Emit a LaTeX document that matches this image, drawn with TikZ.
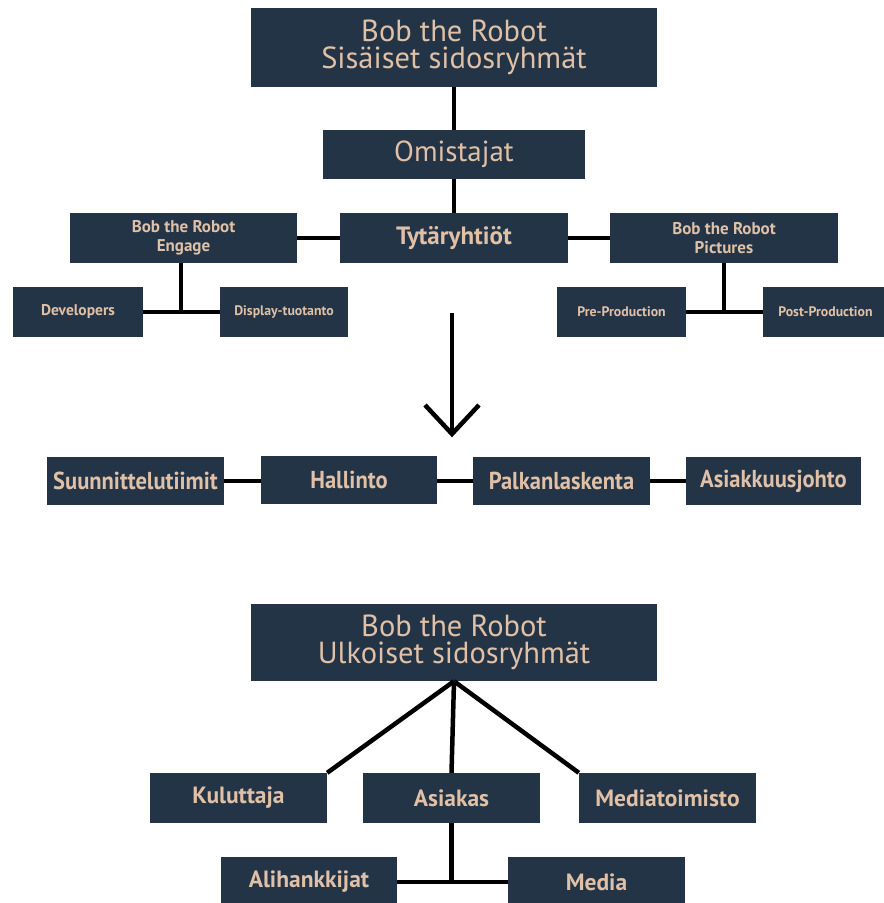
\documentclass[tikz,border=0pt]{standalone}
\usepackage{fontspec}
\setmainfont{PT Sans}
\usepackage{graphicx}
\definecolor{navy}{RGB}{34,52,70}
\definecolor{tan}{RGB}{224,192,166}
\begin{document}
\begin{tikzpicture}[x=1pt,y=-1pt,
  box/.style={fill=navy, text=tan, inner sep=0pt, align=center, anchor=center},
  conn/.style={line width=4.5pt, black},
  fA/.style={font=\fontsize{30.5}{27.5}\selectfont},
  fB/.style={font=\fontsize{29}{30}\selectfont},
  fC/.style={font=\fontsize{25}{28}\selectfont\bfseries},
  fD/.style={font=\fontsize{17}{19.5}\selectfont\bfseries},
  fE/.style={font=\fontsize{15.5}{17}\selectfont\bfseries},
  fF/.style={font=\fontsize{13.8}{16}\selectfont\bfseries},
  fR/.style={font=\fontsize{24.5}{26}\selectfont\bfseries},
  fK/.style={font=\fontsize{23.5}{26}\selectfont\bfseries}]
\useasboundingbox (0,0) rectangle (884,903);
% internal
\node[box,fA,minimum width=406pt,minimum height=79pt] (top) at (454,47.5) {Bob the Robot\\Sisäiset sidosryhmät};
\node[box,fB,minimum width=262pt,minimum height=49pt] (omi) at (454,154.5) {Omistajat};
\node[box,fC,minimum width=228pt,minimum height=50pt] (tyt) at (454,238) {Tytäryhtiöt};
\node[box,fD,minimum width=227pt,minimum height=50pt] (eng) at (183.5,238) {Bob the Robot\\Engage};
\node[box,fD,minimum width=228pt,minimum height=50pt] (pic) at (724,238) {Bob the Robot\\Pictures};
\node[box,fE,minimum width=130pt,minimum height=50pt] (dev) at (78,312) {Developers};
\node[box,fF,minimum width=128pt,minimum height=50pt] (disp) at (284,312) {Display-tuotanto};
\node[box,fF,minimum width=129pt,minimum height=50pt] (pre) at (621.5,312) {Pre-Production};
\node[box,fF,minimum width=125pt,minimum height=50pt] (post) at (825.5,312) {Post-Production};
\draw[conn] (top.south) -- (omi.north);
\draw[conn] (omi.south) -- (tyt.north);
\draw[conn] (eng.east) -- (tyt.west);
\draw[conn] (tyt.east) -- (pic.west);
\draw[conn] ([xshift=-2.5pt]eng.south) -- ([xshift=-2.5pt]eng.south |- dev.east);
\draw[conn] (dev.east) -- (disp.west);
\draw[conn] (pic.south) -- (pic.south |- pre.east);
\draw[conn] (pre.east) -- (post.west);
% arrow
\coordinate (arrS) at (452,313);
\coordinate (arrE) at (452,434);
\coordinate (arrL) at (425,405);
\coordinate (arrR) at (479,405);
\draw[conn] (arrS) -- (arrE);
\draw[conn, line join=miter] (arrL) -- (arrE) -- (arrR);
% row
\node[box,fR,minimum width=177pt,minimum height=48pt] (suu) at (135.5,481) {\scalebox{0.92}[1]{Suunnittelutiimit}};
\node[box,fR,minimum width=176pt,minimum height=48pt] (hal) at (349,480) {\scalebox{0.92}[1]{Hallinto}};
\node[box,fR,minimum width=177pt,minimum height=48pt] (pal) at (561.5,481) {\scalebox{0.92}[1]{Palkanlaskenta}};
\node[box,fR,minimum width=175pt,minimum height=48pt] (asj) at (773.5,481) {\scalebox{0.92}[1]{Asiakkuusjohto}};
\draw[conn] (suu.east) -- (suu.east -| hal.west);
\draw[conn] (pal.west -| hal.east) -- (pal.west);
\draw[conn] (pal.east) -- (asj.west);
% external
\node[box,fA,minimum width=406pt,minimum height=77pt] (ulk) at (454,642.5) {Bob the Robot\\Ulkoiset sidosryhmät};
\node[box,fK,minimum width=177pt,minimum height=50pt] (kul) at (238.5,798) {Kuluttaja};
\node[box,fK,minimum width=177pt,minimum height=50pt] (asia) at (451.5,798) {Asiakas};
\node[box,fK,minimum width=177pt,minimum height=50pt] (med) at (667.5,798) {Mediatoimisto};
\node[box,fK,minimum width=176pt,minimum height=50pt] (ali) at (309,882) {Alihankkijat};
\node[box,fK,minimum width=177pt,minimum height=50pt] (media) at (596.5,882) {Media};
\draw[conn] (ulk.south) -- (kul.north east);
\draw[conn] (ulk.south) -- (asia.north);
\draw[conn] (ulk.south) -- (med.north west);
\draw[conn] (asia.south) -- (asia.south |- ali.east);
\draw[conn] (ali.east) -- (media.west);
\end{tikzpicture}
\end{document}
